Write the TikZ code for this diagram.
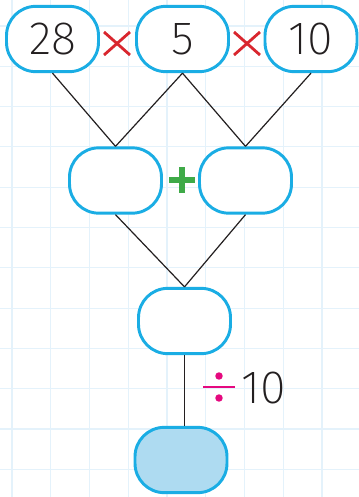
\documentclass[tikz,border=0pt]{standalone}
\usepackage{fontspec}
\setmainfont{Fira Sans ExtraLight}
\usepackage{xcolor}
\definecolor{calcCyan}{HTML}{1AADE4}
\definecolor{calcCyanPale}{HTML}{AEDBF1}
\definecolor{calcGrid}{HTML}{E4F2FB}
\definecolor{calcRed}{HTML}{D9262E}
\definecolor{calcGreen}{HTML}{3FAA48}
\definecolor{calcPink}{HTML}{E5097F}
\definecolor{calcInk}{HTML}{231F20}
\usepackage{tikz}
\usetikzlibrary{positioning, calc}
\tikzset{
  %% ── Boxes ────────────────────────────────────────────────────────────
  %% One rounded cell per number; the last one is filled, it holds the answer.
  boite/.style       = {draw=calcCyan, line width=2.2pt, rounded corners=22pt,
                        fill=white, text=calcInk, minimum width=69pt,
                        minimum height=49pt, inner sep=0pt,
                        font=\fontsize{35}{35}\selectfont},
  boiteFinale/.style = {boite, fill=calcCyanPale},
  %%
  %% ── Lines and operators ──────────────────────────────────────────────
  branche/.style     = {draw=calcInk, line width=0.9pt},
  signeFois/.style   = {draw=calcRed, line width=2.1pt},
  signePlus/.style   = {draw=calcGreen, line width=4.4pt},
  signeDiv/.style    = {draw=calcPink, fill=calcPink, line width=2.2pt},
  nombre/.style      = {text=calcInk, inner sep=0pt,
                        font=\fontsize{35}{35}\selectfont},
}

\begin{document}
\begin{tikzpicture}[x=0.75pt, y=-0.75pt]

\useasboundingbox (0, 0) rectangle (359, 497);
\fill[white] (0, 0) rectangle (359, 497);

% squared paper
\foreach \i in {0,...,8}
  \draw[calcGrid, line width=0.8pt] ({12 + 38.75*\i}, 0) -- ({12 + 38.75*\i}, 497);
\foreach \j in {0,...,11}
  \draw[calcGrid, line width=0.8pt] (0, {26 + 40.3*\j}) -- (359, {26 + 40.3*\j});

\node[boite] (n28) at (52.5, 39) {28};
\node[boite] (n5) at (182.5, 39) {5};
\node[boite] (n10) at (311, 39) {10};

\node[boite] (prodA) at (115.5, 180.5) {};
\node[boite] (prodB) at (245.5, 180.5) {};

\node[boite] (somme) at (184.5, 321) {};
\node[boiteFinale] (reponse) at (181, 460) {};

\draw[branche] (n28.south) -- (prodA.north);
\draw[branche] (n5.south) -- (prodA.north);
\draw[branche] (n5.south) -- (prodB.north);
\draw[branche] (n10.south) -- (prodB.north);
\draw[branche] (prodA.south) -- (somme.north);
\draw[branche] (prodB.south) -- (somme.north);
\draw[branche] (somme.south) -- (somme.south |- reponse.north);

% operators
\foreach \cx in {117, 247}
  \draw[signeFois] (\cx-13, 32) -- (\cx+13, 55) (\cx-13, 55) -- (\cx+13, 32);
\draw[signePlus] (169, 180) -- (195, 180) (182, 167) -- (182, 193);

\coordinate (div) at (219, 387);
\draw[signeDiv] ($(div)+(-16, 0)$) -- ($(div)+(16, 0)$);
\fill[calcPink] ($(div)+(0, -11)$) circle (2.8pt)
                ($(div)+(0, 11)$) circle (2.8pt);
\node[nombre, anchor=west] (diviseur) at (241, 388) {10};

\end{tikzpicture}
\end{document}
